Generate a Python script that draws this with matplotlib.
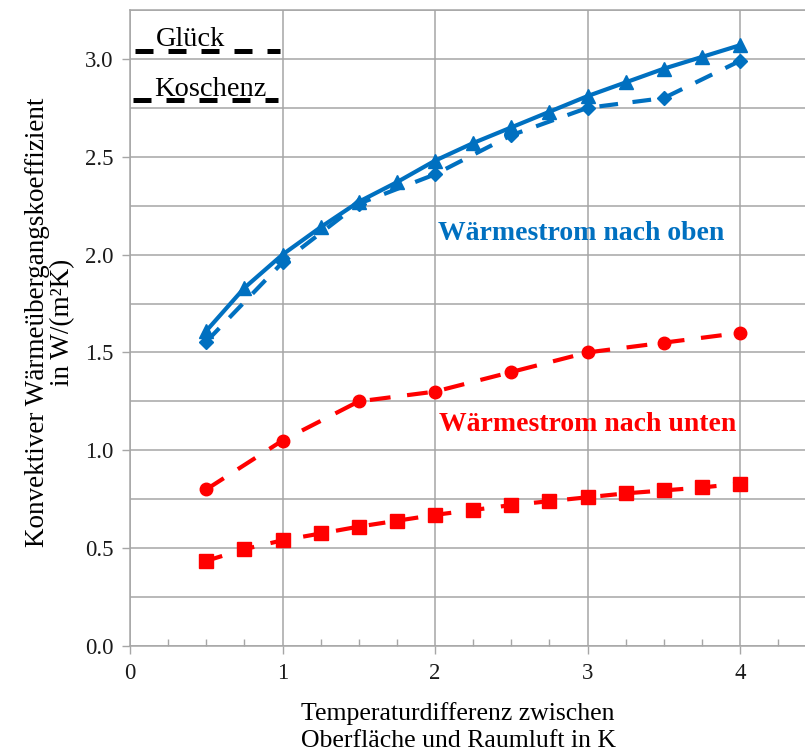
import matplotlib
matplotlib.use("Agg")
import matplotlib.pyplot as plt
from matplotlib.ticker import MultipleLocator, FormatStrFormatter

plt.rcParams['font.family'] = ['Liberation Serif', 'DejaVu Serif']

# Temperaturdifferenz in K
dt_fine = [0.5, 0.75, 1.0, 1.25, 1.5, 1.75, 2.0, 2.25, 2.5, 2.75, 3.0, 3.25, 3.5, 3.75, 4.0]
dt_coarse = [0.5, 1.0, 1.5, 2.0, 2.5, 3.0, 3.5, 4.0]

# Wärmestrom nach oben
oben_glueck = [1.61, 1.83, 2.00, 2.14, 2.27, 2.37, 2.48, 2.57, 2.65, 2.73, 2.81, 2.88, 2.95, 3.01, 3.07]
oben_koschenz = [1.555, 1.96, 2.26, 2.41, 2.61, 2.75, 2.80, 2.99]

# Wärmestrom nach unten
unten_koschenz = [0.80, 1.05, 1.25, 1.30, 1.40, 1.50, 1.55, 1.60]
unten_glueck = [0.435, 0.495, 0.54, 0.575, 0.61, 0.64, 0.67, 0.695, 0.72, 0.74, 0.76, 0.78, 0.795, 0.81, 0.83]

BLUE = '#0070C0'
RED = '#FF0000'
GRID = '#A6A6A6'

fig = plt.figure(figsize=(8.05, 7.54), dpi=100)
ax = fig.add_axes([130 / 805, 108 / 754, 675 / 805, 636 / 754])

# Kurven
ax.plot(dt_fine, oben_glueck, color=BLUE, lw=3.0, marker='^', ms=10.5, zorder=5)
ax.plot(dt_coarse, oben_koschenz, color=BLUE, lw=3.0, ls=(0, (4.5, 3.5)),
        marker='D', ms=7.5, zorder=4)
ax.plot(dt_coarse, unten_koschenz, color=RED, lw=3.0, ls=(0, (5, 4)),
        marker='o', ms=9, zorder=4)
ax.plot(dt_fine, unten_glueck, color=RED, lw=3.0, ls=(0, (4, 4)),
        marker='s', ms=9.5, zorder=4)

# Achsen
ax.set_xlim(0, 4.426)
ax.set_ylim(0, 3.25)
ax.xaxis.set_major_locator(MultipleLocator(1))
ax.xaxis.set_minor_locator(MultipleLocator(0.25))
ax.yaxis.set_major_locator(MultipleLocator(0.5))
ax.yaxis.set_minor_locator(MultipleLocator(0.25))
ax.yaxis.set_major_formatter(FormatStrFormatter('%.1f'))
ax.xaxis.set_major_formatter(FormatStrFormatter('%d'))

ax.tick_params(axis='both', which='major', direction='out', length=6, width=1,
               color=GRID, labelsize=16.5, labelcolor='#1a1a1a', pad=6)
ax.tick_params(axis='x', which='minor', direction='in', length=5, width=1, color=GRID)
ax.tick_params(axis='y', which='minor', length=0)

ax.grid(True, which='major', axis='x', color=GRID, lw=1.1)
ax.grid(True, which='both', axis='y', color=GRID, lw=1.1)
ax.set_axisbelow(True)

for side in ['left', 'bottom', 'top']:
    ax.spines[side].set_color(GRID)
    ax.spines[side].set_linewidth(1.1)
ax.spines['right'].set_visible(False)

ax.set_xlabel('Temperaturdifferenz zwischen\nOberfläche und Raumluft in K',
              fontsize=18.5, linespacing=1.3)
ax.xaxis.set_label_coords((458 - 130) / 675, -0.088, transform=ax.transAxes)
ax.xaxis.label.set_va('top')
ax.set_ylabel('Konvektiver Wärmeübergangskoeffizient\nin W/(m²K)',
              fontsize=19.5, linespacing=1.0)
ax.yaxis.set_label_coords(-0.082, 0.5 + (330 - 324) / 636, transform=ax.transAxes)

# Beschriftung der Kurvengruppen
ax.text(2.96, 2.11, 'Wärmestrom nach oben', color=BLUE, fontsize=20,
        fontweight='bold', ha='center', va='center')
ax.text(3.0, 1.13, 'Wärmestrom nach unten', color=RED, fontsize=20,
        fontweight='bold', ha='center', va='center')

# Legende: Text über gestrichelter Linie
legend_dash = (0, (3.6, 3.0))
ax.plot([0.0074, 0.222], [0.936, 0.936], transform=ax.transAxes, color='black',
        lw=3.6, ls=legend_dash, dash_capstyle='butt', clip_on=False)
ax.plot([0.004, 0.219], [0.859, 0.859], transform=ax.transAxes, color='black',
        lw=3.6, ls=legend_dash, dash_capstyle='butt', clip_on=False)
ax.text(0.090, 0.943, 'Glück', transform=ax.transAxes, fontsize=20.5,
        ha='center', va='baseline')
ax.text(0.1185, 0.865, 'Koschenz', transform=ax.transAxes, fontsize=20.5,
        ha='center', va='baseline')

fig.savefig('out.png', dpi=100)
